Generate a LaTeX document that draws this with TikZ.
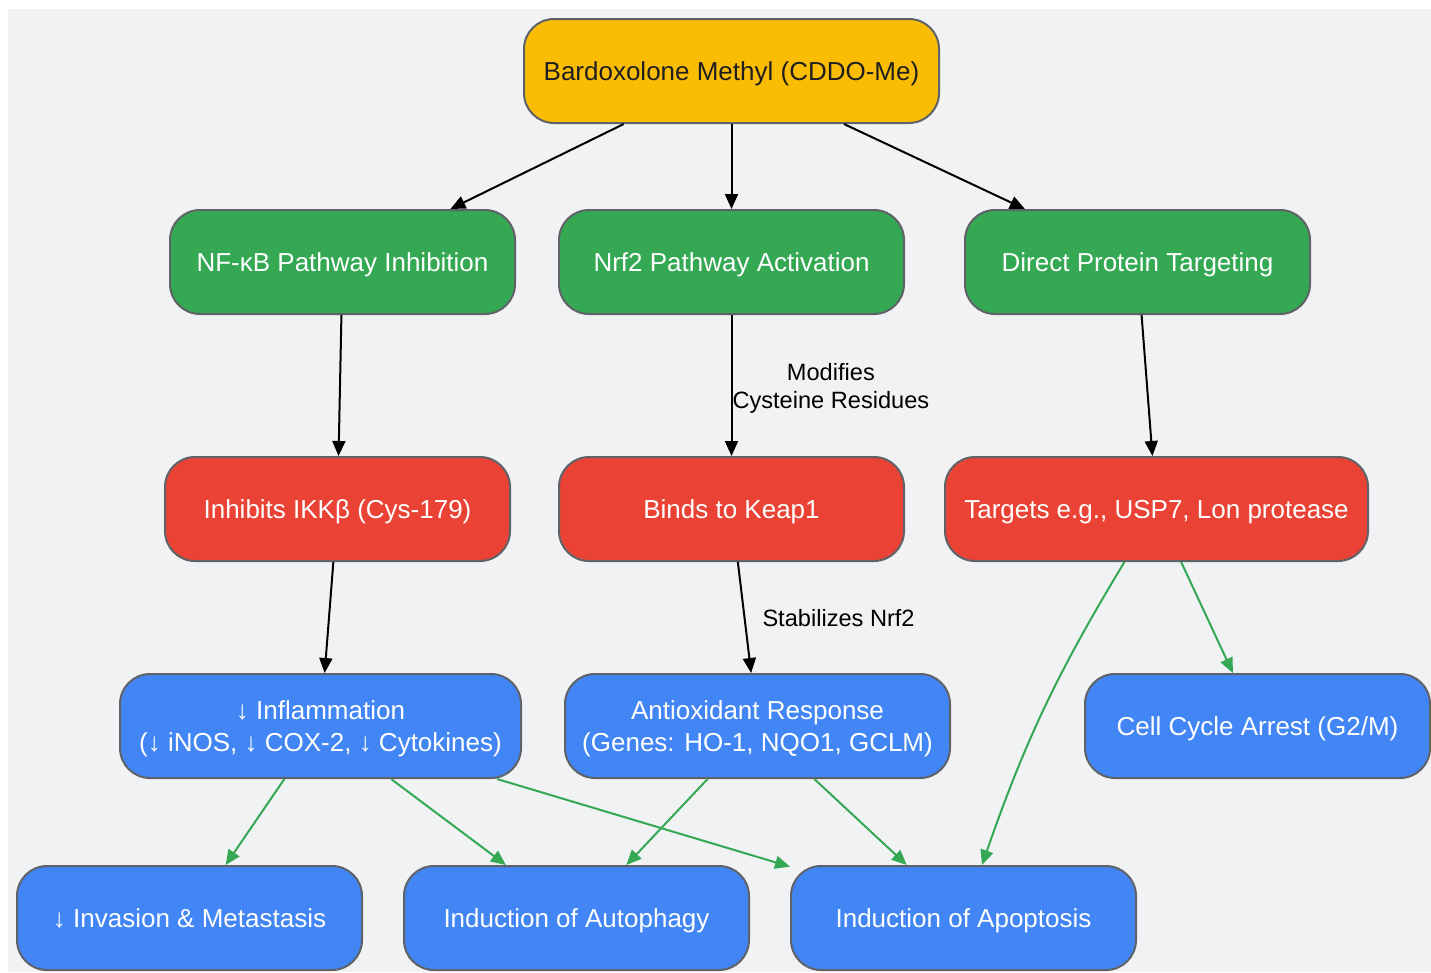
\documentclass[tikz,border=0pt]{standalone}
\usepackage{fontspec}
\setmainfont{Liberation Sans}
\usetikzlibrary{arrows.meta}
\definecolor{bgfill}{HTML}{F1F2F4}
\definecolor{frame}{HTML}{5F6368}
\definecolor{gyellow}{HTML}{FBBC04}
\definecolor{ggreen}{HTML}{34A853}
\definecolor{gred}{HTML}{EA4335}
\definecolor{gblue}{HTML}{4285F4}
\begin{document}
\begin{tikzpicture}[x=1pt,y=-1pt,
	box/.style={rounded corners=30pt, draw=frame, line width=2pt, minimum width=345pt,
		minimum height=104pt, inner sep=0pt, align=center, text=white,
		text height=23.5pt, text depth=5.5pt, font=\fontsize{26}{32}\selectfont},
	twoline/.style={text height=55.5pt},
	drug/.style={box, fill=gyellow, text=black!88, minimum width=415pt},
	path/.style={box, fill=ggreen},
	target/.style={box, fill=gred},
	effect/.style={box, fill=gblue},
	link/.style={line width=2pt, -{Triangle[length=15pt,width=13pt]}},
	glink/.style={link, ggreen},
	elabel/.style={inner sep=0pt, align=center, font=\fontsize{23.6}{28}\selectfont}]
	\useasboundingbox (0,0) rectangle (1431,972);
	\fill[bgfill] (8,9) rectangle (1431,972);

	% drug
	\node[drug] (cddo) at (731.5,71) {Bardoxolone Methyl (CDDO-Me)};

	% pathways
	\node[path] (nfkb) at (342.5,262) {NF-κB Pathway Inhibition};
	\node[path] (nrf2) at (731.5,262) {Nrf2 Pathway Activation};
	\node[path] (direct) at (1137.5,262) {Direct Protein Targeting};

	% molecular targets
	\node[target] (ikk) at (337.5,509) {Inhibits IKKβ (Cys-179)};
	\node[target] (keap) at (731.5,509) {Binds to Keap1};
	\node[target, minimum width=423pt] (usp) at (1156.5,509) {Targets e.g., USP7, Lon protease};

	% effects
	\node[effect, twoline, minimum width=401pt] (inflam) at (320.5,726) {↓ Inflammation\\(↓ iNOS, ↓ COX-2, ↓ Cytokines)};
	\node[effect, twoline, minimum width=385pt] (antiox) at (757.5,726) {Antioxidant Response\\(Genes: HO-1, NQO1, GCLM)};
	\node[effect] (arrest) at (1257.5,726) {Cell Cycle Arrest (G2/M)};
	\node[effect] (invasion) at (189.5,918) {↓ Invasion \& Metastasis};
	\node[effect] (autoph) at (576.5,918) {Induction of Autophagy};
	\node[effect] (apopt) at (963.5,918) {Induction of Apoptosis};

	% black arrows
	\draw[link] (cddo) -- (nfkb);
	\draw[link] (cddo) -- (nrf2);
	\draw[link] (cddo) -- (direct);
	\draw[link] (nfkb) -- (ikk);
	\draw[link] (nrf2) -- node[elabel, anchor=west, yshift=-3pt] {Modifies\\Cysteine Residues} (keap);
	\draw[link] (direct) -- (usp);
	\draw[link] (ikk) -- (inflam);
	\draw[link] (keap) -- node[elabel, anchor=west, xshift=17pt, yshift=-1pt] {Stabilizes Nrf2} (antiox);

	% green arrows
	\draw[glink] (usp) -- (arrest);
	\draw[glink] (usp) to[bend right=6] (apopt);
	\draw[glink] (inflam) -- (invasion);
	\draw[glink] (inflam) -- (autoph);
	\draw[glink] (inflam) -- (apopt);
	\draw[glink] (antiox) -- (autoph);
	\draw[glink] (antiox) -- (apopt);

\end{tikzpicture}
\end{document}
